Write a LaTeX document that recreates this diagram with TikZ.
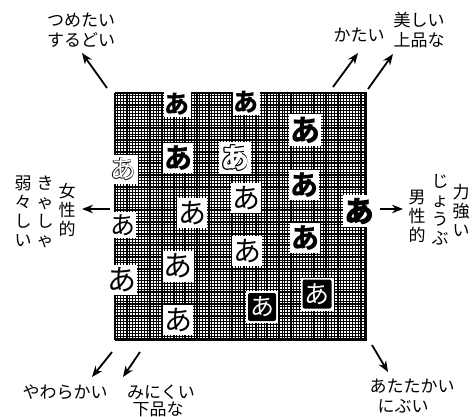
\documentclass[tikz,border=0pt]{standalone}
\usepackage{fontspec}
\newfontfamily\jp{Noto Sans CJK JP}
\newfontfamily\jph[FakeBold=2.5]{Noto Sans CJK JP}
\usetikzlibrary{arrows.meta}
\begin{document}
\begin{tikzpicture}[x=1pt,y=-1pt,
  lab/.style={font=\jp\fontsize{17}{20}\selectfont, inner sep=0pt, align=center},
  vcol/.style={font=\jp\fontsize{17}{19}\selectfont, inner sep=0pt, align=center},
  arr/.style={line width=1.8pt, -{Stealth[length=11pt,width=8.5pt]}},
  cbox/.style={fill=white, inner sep=0pt, minimum width=#1, minimum height=#1},
  bch/.style={font=\jp\bfseries\fontsize{#1}{#1}\selectfont},
  hch/.style={font=\jph\bfseries\fontsize{#1}{#1}\selectfont},
  rch/.style={font=\jp\fontsize{#1}{#1}\selectfont},
  gch/.style={inner sep=0pt},
  blk/.style={fill=black, text=white, inner sep=0pt, minimum width=#1, minimum height=#1, rounded corners=2pt},
  fine/.style={line width=1pt},
  major/.style={line width=1.8pt}
]
\useasboundingbox (0,0) rectangle (476,417);
% grid
\fill[white] (115,93) rectangle (366,340);
\foreach \i in {0,...,85} \draw[fine] ({115+\i*2.93},93) -- ({115+\i*2.93},340);
\foreach \i in {0,...,84} \draw[fine] (115,{93+\i*2.93}) -- (366,{93+\i*2.93});
\foreach \i in {0,...,21} \draw[major] ({115+\i*11.72},93) -- ({115+\i*11.72},340);
\foreach \i in {0,...,21} \draw[major] (115,{93+\i*11.72}) -- (366,{93+\i*11.72});
\draw[line width=1pt] (115,93) rectangle (366,340);
\draw[line width=2.5pt] (115,340) -- (366,340) -- (366,93);

% characters
\node[cbox=27, bch=25] (a1) at (177,104) {あ};
\node[cbox=27, bch=25] (a2) at (246,102) {あ};
\node[cbox=32, bch=30] (a3) at (305,130) {あ};
\node[cbox=29] (a4) at (123,169) {};
\foreach \dx/\dy in {-0.6/0,0.6/0,0/-0.6,0/0.6}
  \node[gch, rch=26] at (123+\dx,169+\dy) {あ};
\node[gch, rch=26, text=white] (a4t) at (123,169) {あ};
\node[cbox=30, bch=28] (a5) at (178,158) {あ};
\node[cbox=32] (a6) at (235,158) {};
\foreach \dx/\dy in {-0.9/0,0.9/0,0/-0.9,0/0.9,-0.65/-0.65,0.65/0.65,-0.65/0.65,0.65/-0.65}
  \node[gch, bch=28] at (235+\dx,158+\dy) {あ};
\node[gch, bch=28, text=white] (a6t) at (235,158) {あ};
\node[cbox=30, bch=28] (a7) at (304,185) {あ};
\node[cbox=30, rch=28] (a8) at (192,213) {あ};
\node[cbox=30, rch=28] (a9) at (246,198) {あ};
\node[cbox=26, rch=25] (a10) at (123,225) {あ};
\node[cbox=30, bch=28] (a11) at (305,238) {あ};
\node[cbox=32, hch=29] (a12) at (359,211) {あ};
\node[cbox=31, rch=29] (a13) at (178,266) {あ};
\node[cbox=30, rch=29] (a14) at (122,280) {あ};
\node[cbox=30, rch=28] (a15) at (247,251) {あ};
\node[cbox=32] (a16b) at (262,307) {};
\node[blk=28, rch=24] (a16) at (262,307) {あ};
\node[cbox=33] (a17b) at (317,294) {};
\node[blk=29, rch=25] (a17) at (317,294) {あ};
\node[cbox=30, rch=28] (a18) at (178,320) {あ};

% labels
\node[lab] (tl) at (81,30) {つめたい\\するどい};
\node[lab] (kt) at (359,35) {かたい};
\node[lab] (ub) at (419,30) {美しい\\上品な};
\node[vcol] (jo) at (67,210) {女\\性\\的};
\node[vcol] (ky) at (45,212) {き\\ゃ\\し\\ゃ};
\node[vcol] (yw) at (23,211) {弱\\々\\し\\い};
\node[vcol] (da) at (417,216) {男\\性\\的};
\node[vcol] (jb) at (440,210) {じ\\ょ\\う\\ぶ};
\node[vcol] (ck) at (461,210) {力\\強\\い};
\node[lab] (yk) at (65,392) {やわらかい};
\node[lab] (mk) at (161,392) {みにくい};
\node[lab] (gh) at (158,409) {下品な};
\node[lab] (at) at (412,386) {あたたかい};
\node[lab] (nb) at (403,406) {にぶい};

% arrows
\coordinate (s1) at (107,88);  \coordinate (e1) at (82,53);
\coordinate (s2) at (333,87);  \coordinate (e2) at (358,53);
\coordinate (s3) at (368,89);  \coordinate (e3) at (393,54);
\coordinate (s4) at (110,209); \coordinate (e4) at (82,209);
\coordinate (s5) at (380,209); \coordinate (e5) at (403,209);
\coordinate (s6) at (112,352); \coordinate (e6) at (92,377);
\coordinate (s7) at (140,352); \coordinate (e7) at (123,377);
\coordinate (s8) at (372,345); \coordinate (e8) at (388,372);
\foreach \k in {1,...,8} \draw[arr] (s\k) -- (e\k);
\end{tikzpicture}
\end{document}
